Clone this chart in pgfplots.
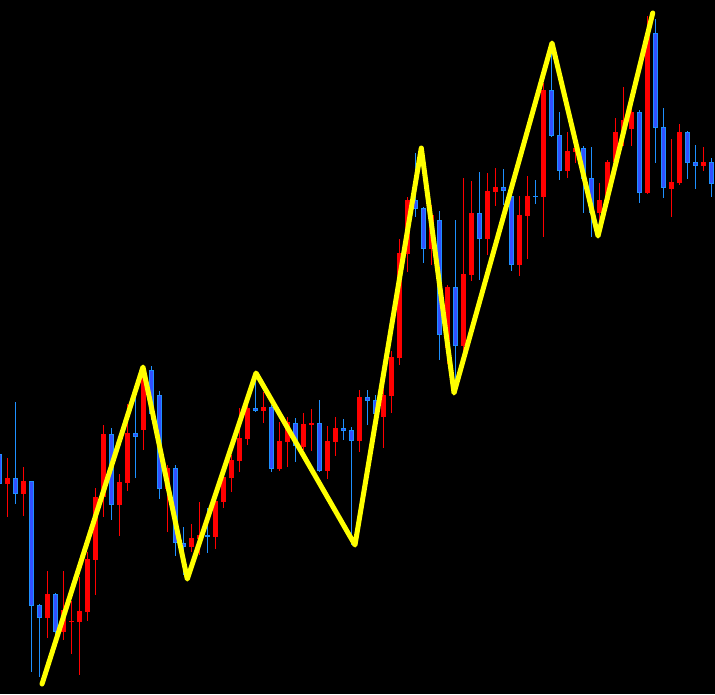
\documentclass[border=0pt]{standalone}
\usepackage{pgfplots}
\usepackage{pgfplotstable}
\pgfplotsset{compat=1.18}
\definecolor{cred}{RGB}{255,0,0}
\definecolor{cblue}{RGB}{50,80,255}
\definecolor{cedge}{RGB}{30,144,255}
\definecolor{zz}{RGB}{255,255,0}
% candles: k = bar index, values in chart units (screen y, larger = lower price)
\pgfplotstableread{
k hi top bot lo
1 458 478 484 517
3 467 481 494 516
6 571 594 618 638
8 571 610 632 640
9 601 621 622 654
10 577 611 622 675
11 552 559 612 621
12 488 497 560 595
13 425 434 497 517
15 474 482 505 536
16 404 433 483 491
18 368 372 430 450
21 465 468 489 532
24 524 538 547 552
25 502 535 539 555
27 498 501 537 549
28 470 477 502 508
29 455 460 478 492
30 408 438 461 472
31 400 408 439 445
33 392 407 411 423
35 422 441 469 471
36 417 422 442 467
38 413 424 447 450
39 409 423 425 451
41 426 441 471 479
42 417 428 442 456
45 390 397 441 452
48 385 395 417 448
49 351 357 396 413
50 239 253 358 365
51 197 200 254 272
54 205 215 249 265
56 285 287 348 364
58 178 274 346 352
59 181 213 275 281
61 173 191 239 255
62 168 187 192 206
65 196 215 265 276
66 176 196 216 259
68 83 90 197 237
71 132 151 171 178
72 140 148 152 163
75 183 200 213 235
76 160 162 200 205
77 118 132 162 168
78 87 120 132 146
79 100 112 129 146
81 16 33 193 194
84 139 182 189 217
85 124 132 183 185
88 147 162 166 171
}\redtab
\pgfplotstableread{
k hi top bot lo
0 452 454 484 490
2 402 478 494 504
4 481 481 606 672
5 604 605 618 677
7 593 594 632 640
14 428 434 505 520
17 398 433 437 478
19 366 370 414 420
20 391 395 489 499
22 465 468 543 556
23 527 543 547 575
26 508 535 537 553
32 375 408 411 412
34 405 407 469 472
37 418 423 446 462
40 400 423 471 472
43 419 428 431 440
44 427 430 441 545
46 390 397 401 425
47 395 400 414 420
52 153 200 209 217
53 207 208 249 263
55 211 220 335 360
57 220 287 346 390
60 172 213 239 280
63 169 187 191 205
64 190 196 265 271
67 180 196 197 204
69 43 90 136 137
70 112 135 171 180
73 146 148 179 213
74 147 178 213 237
80 110 112 193 203
82 19 33 128 163
83 108 127 188 198
86 131 132 163 179
87 145 162 166 189
89 158 162 184 197
}\bluetab
\pgfplotsset{
  chartframe/.style={
    at={(0,0)}, anchor=south west,
    width=715pt, height=694pt, scale only axis,
    xmin=0.0875, xmax=89.4625, ymin=0, ymax=694, y dir=reverse,
    axis lines=none, ticks=none, clip=true},
  candle/.style={draw=none, mark=none, forget plot,
    error bars/.cd, y dir=plus, y explicit, error mark=none}}
\begin{document}
\begin{tikzpicture}
\fill[black] (0,0) rectangle (715pt,694pt);
\begin{axis}[chartframe, axis background/.style={fill=black}]
% red wicks
\addplot[candle, error bar style={draw=cred, line width=1pt}]
  table[x=k, y=hi, y error plus expr=\thisrow{lo}-\thisrow{hi}] {\redtab};
% blue wicks
\addplot[candle, error bar style={draw=cedge, line width=1pt}]
  table[x=k, y=hi, y error plus expr=\thisrow{lo}-\thisrow{hi}] {\bluetab};
% red bodies
\addplot[candle, error bar style={draw=cred, line width=5pt}]
  table[x=k, y=top, y error plus expr={max(\thisrow{bot}-\thisrow{top},1)}] {\redtab};
% blue bodies (edge)
\addplot[candle, error bar style={draw=cedge, line width=5pt}]
  table[x=k, y=top, y error plus expr={max(\thisrow{bot}-\thisrow{top},1)}] {\bluetab};
% blue bodies (fill)
\addplot[candle, error bar style={draw=cblue, line width=3pt}]
  table[x=k, y expr=\thisrow{top}+1, y error plus expr={max(\thisrow{bot}-\thisrow{top}-2,0)}] {\bluetab};
\end{axis}
\begin{axis}[chartframe]
% zigzag
\addplot[zz, line width=5pt, line join=round, line cap=round, mark=none] coordinates {
(5.34,684) (17.96,367) (23.5,579) (32.09,373) (44.46,545) (52.75,148) (56.84,393) (69.09,43) (74.84,236) (81.68,13)
};
\end{axis}
\end{tikzpicture}
\end{document}
